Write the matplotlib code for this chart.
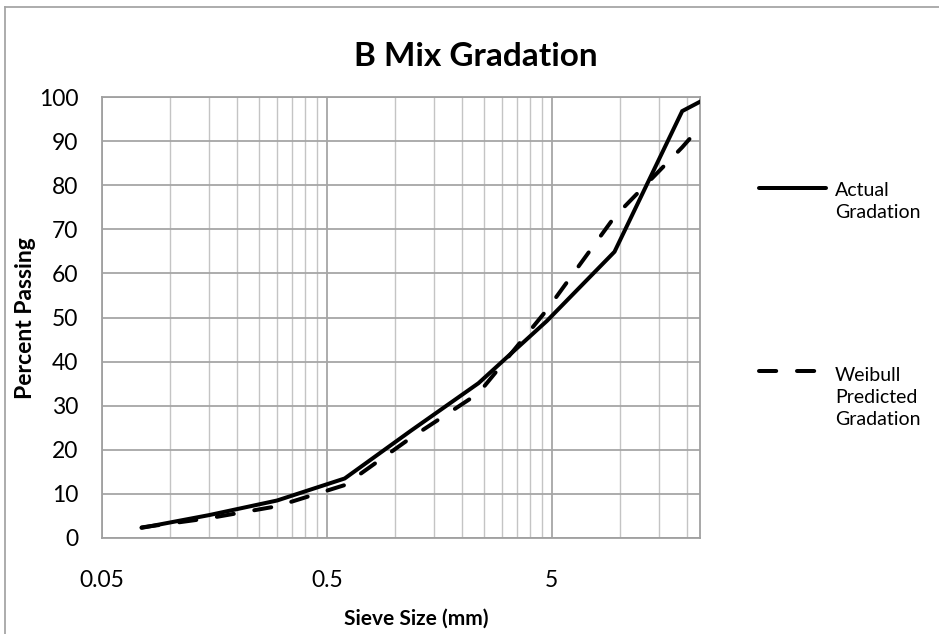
import matplotlib.pyplot as plt
from matplotlib.lines import Line2D
from matplotlib.ticker import FixedLocator, NullFormatter

plt.rcParams['font.family'] = ['Lato', 'DejaVu Sans']

# sieve sizes (mm) and percent passing
sieve = [0.075, 0.15, 0.3, 0.6, 1.18, 2.36, 4.75, 9.5, 19, 25]
actual = [2.3, 5.2, 8.5, 13.5, 24.3, 35.1, 49.2, 64.9, 96.8, 100]
weibull = [2.4, 4.5, 7.2, 12.0, 22.7, 32.8, 51.7, 72.8, 88.6, 95.5]

xticks = [0.05, 0.5, 5]
xticklabels = ['0.05', '0.5', '5']
yticks = list(range(0, 101, 10))

W, H = 939, 634
fig = plt.figure(figsize=(W / 100, H / 100), dpi=100)
ax = fig.add_axes([102 / W, 1 - 538 / H, (700 - 102) / W, (538 - 97) / H])

lw = 4 * 72 / 100
ax.plot(sieve, actual, color='black', lw=lw, solid_capstyle='round',
        solid_joinstyle='miter', zorder=3)
ax.plot(sieve, weibull, color='black', lw=lw, dashes=(4.3, 5.2),
        dash_capstyle='round', zorder=3)

ax.set_xscale('log')
ax.set_xlim(0.05, 22.8)
ax.set_ylim(0, 100)

ax.xaxis.set_major_locator(FixedLocator(xticks))
ax.set_xticklabels(xticklabels)
minor = [b * k for b in (0.05, 0.5, 5) for k in range(2, 10)]
ax.xaxis.set_minor_locator(FixedLocator(minor))
ax.xaxis.set_minor_formatter(NullFormatter())
ax.set_yticks(yticks)

ax.grid(which='major', color='#a6a6a6', lw=1.3)
ax.grid(which='minor', axis='x', color='#c4c4c4', lw=1.0)
ax.set_axisbelow(True)
for s in ax.spines.values():
    s.set_color('#a0a0a0')
    s.set_linewidth(1.3)

ax.tick_params(axis='both', which='both', length=0, labelsize=16.5)
ax.tick_params(axis='y', pad=17)
ax.tick_params(axis='x', pad=23)

fig.text(476 / W, 1 - 56 / H, 'B Mix Gradation', ha='center', va='center',
         fontsize=24, fontweight='bold')
fig.text(416 / W, 1 - 619 / H, 'Sieve Size (mm)', ha='center', va='center',
         fontsize=15, fontweight='bold')
fig.text(26 / W, 1 - 318 / H, 'Percent Passing', ha='center', va='center',
         rotation=90, fontsize=16.5, fontweight='bold')

# legend drawn by hand to match the key layout
fig.add_artist(Line2D([759 / W, 826 / W], [1 - 188 / H] * 2, color='black',
                      lw=lw, solid_capstyle='round', transform=fig.transFigure))
fig.add_artist(Line2D([759 / W, 822 / W], [1 - 371 / H] * 2, color='black',
                      lw=lw, dashes=(4.3, 5.2), dash_capstyle='round',
                      transform=fig.transFigure))
fig.text(835 / W, 1 - 201.5 / H, 'Actual\nGradation', ha='left', va='center',
         fontsize=14, linespacing=1.35)
fig.text(835 / W, 1 - 397.5 / H, 'Weibull\nPredicted\nGradation', ha='left',
         va='center', fontsize=14, linespacing=1.35)

# chart border (left and top edges visible)
fig.add_artist(Line2D([5 / W, 5 / W], [0, 1 - 7 / H], color='#a6a6a6', lw=1.3,
                      transform=fig.transFigure))
fig.add_artist(Line2D([5 / W, 1], [1 - 7 / H] * 2, color='#a6a6a6', lw=1.3,
                      transform=fig.transFigure))

fig.savefig('out.png', dpi=100)
